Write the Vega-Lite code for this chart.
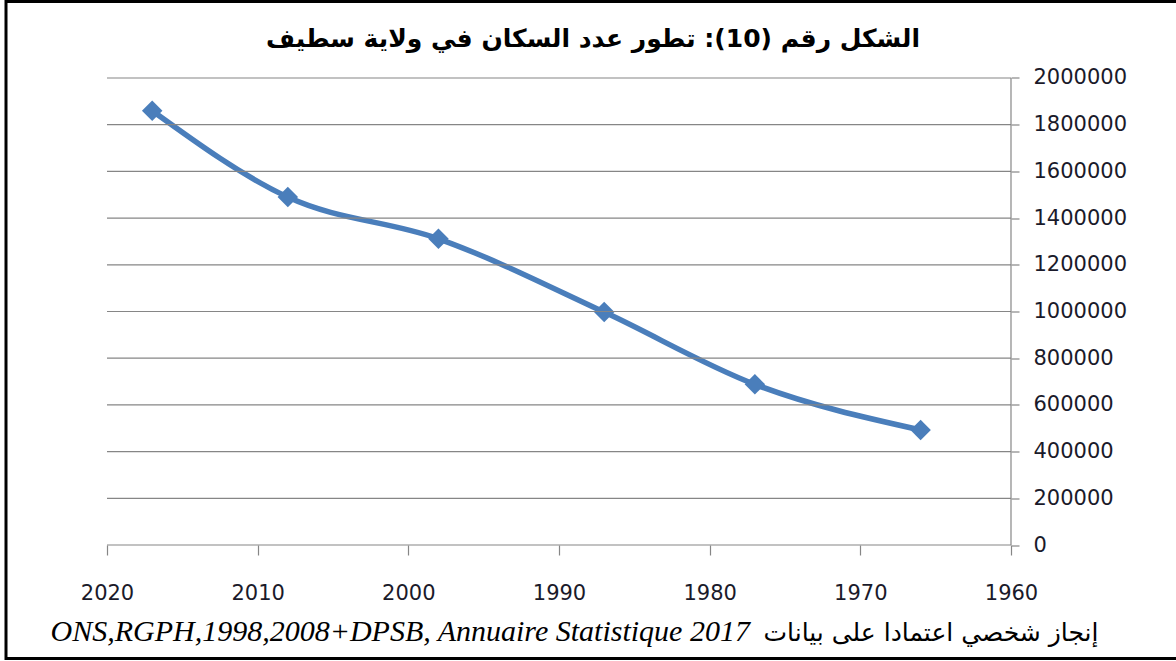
{
  "$schema": "https://vega.github.io/schema/vega-lite/v6.json",
  "autosize": {"type": "none"},
  "padding": {"left": 6, "top": 1.5, "right": -20, "bottom": 2.5},
  "width": 1190,
  "height": 657,
  "background": "white",
  "config": {"view": {"stroke": "black", "strokeWidth": 3}},
  "title": {
    "text": "الشكل رقم (10): تطور عدد السكان في ولاية سطيف",
    "font": "DejaVu Sans",
    "fontSize": 25,
    "fontWeight": "bold",
    "color": "black",
    "anchor": "middle",
    "frame": "group",
    "dx": -8,
    "offset": -50
  },
  "datasets": {
    "pop": [
      {"year": 2017, "population": 1860000},
      {"year": 2008, "population": 1489979},
      {"year": 1998, "population": 1311413},
      {"year": 1987, "population": 997482},
      {"year": 1977, "population": 688000},
      {"year": 1966, "population": 492500}
    ],
    "grid": [
      {"v": 0}, {"v": 200000}, {"v": 400000}, {"v": 600000}, {"v": 800000},
      {"v": 1000000}, {"v": 1200000}, {"v": 1400000}, {"v": 1600000},
      {"v": 1800000}, {"v": 2000000}
    ],
    "yaxis": [{"from": 0, "to": 2000000, "at": 1960}]
  },
  "layer": [
    {
      "data": {"name": "pop"},
      "mark": {
        "type": "line",
        "interpolate": "monotone",
        "color": "#4A7EBB",
        "strokeWidth": 5.5,
        "point": {"shape": "diamond", "size": 420, "filled": true, "color": "#4A7EBB", "opacity": 1}
      },
      "encoding": {
        "x": {
          "field": "year", "type": "quantitative",
          "scale": {"domain": [1947.7213, 2026.7035], "reverse": true, "nice": false, "zero": false},
          "axis": {
            "orient": "bottom", "offset": -113.5,
            "values": [2020, 2010, 2000, 1990, 1980, 1970, 1960],
            "format": "d", "domain": false, "grid": false,
            "ticks": true, "tickColor": "#868686", "tickSize": 10, "tickWidth": 1.2,
            "labelFont": "DejaVu Sans", "labelFontSize": 21, "labelColor": "#1a1a2a",
            "labelPadding": 27, "labelFlush": false, "labelOverlap": false,
            "title": "ONS,RGPH,1998,2008+DPSB, Annuaire Statistique 2017",
            "titleFont": "Liberation Serif", "titleFontStyle": "italic", "titleFontWeight": "normal",
            "titleFontSize": 30, "titleColor": "black",
            "titleAlign": "left", "titleBaseline": "alphabetic",
            "titleX": 44, "titleY": 95
          }
        },
        "y": {
          "field": "population", "type": "quantitative",
          "scale": {"domain": [-486081, 2327623], "nice": false, "zero": false},
          "axis": {
            "orient": "right", "offset": -185,
            "values": [0, 200000, 400000, 600000, 800000, 1000000, 1200000, 1400000, 1600000, 1800000, 2000000],
            "format": "d", "domain": false, "grid": false,
            "ticks": true, "tickColor": "#868686", "tickSize": 8, "tickWidth": 1.2,
            "labelFont": "DejaVu Sans", "labelFontSize": 21, "labelColor": "#1a1a2a",
            "labelPadding": 14, "labelFlush": false, "labelOverlap": false,
            "title": "إنجاز شخصي اعتمادا على بيانات",
            "titleFont": "DejaVu Sans", "titleFontWeight": "normal", "titleFontSize": 25,
            "titleColor": "black", "titleAngle": 0,
            "titleAlign": "right", "titleBaseline": "alphabetic",
            "titleX": 87, "titleY": 638.5
          }
        }
      }
    },
    {
      "data": {"name": "grid"},
      "mark": {"type": "rule", "color": "#868686", "strokeWidth": 1.2},
      "encoding": {
        "y": {"field": "v", "type": "quantitative",
              "scale": {"domain": [-486081, 2327623], "nice": false, "zero": false}},
        "x": {"datum": 2020, "type": "quantitative",
              "scale": {"domain": [1947.7213, 2026.7035], "reverse": true, "nice": false, "zero": false}},
        "x2": {"datum": 1960}
      }
    },
    {
      "data": {"name": "yaxis"},
      "mark": {"type": "rule", "color": "#868686", "strokeWidth": 1.2},
      "encoding": {
        "x": {"field": "at", "type": "quantitative",
              "scale": {"domain": [1947.7213, 2026.7035], "reverse": true, "nice": false, "zero": false}},
        "y": {"field": "from", "type": "quantitative",
              "scale": {"domain": [-486081, 2327623], "nice": false, "zero": false}},
        "y2": {"field": "to"}
      }
    }
  ]
}
